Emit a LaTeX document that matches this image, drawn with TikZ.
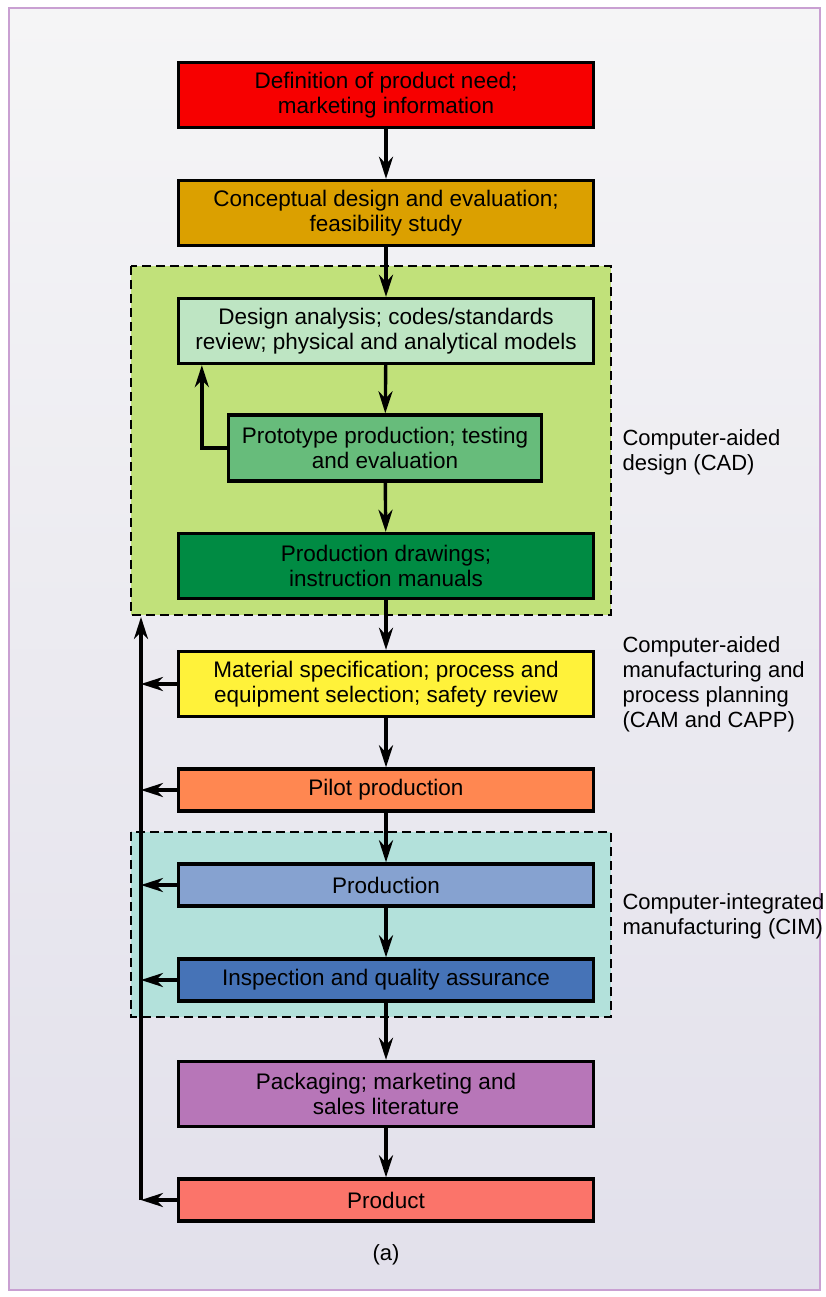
\documentclass[tikz,border=0pt]{standalone}
\usepackage{fontspec}
\setmainfont{Liberation Sans}
\usetikzlibrary{arrows.meta, calc}
\definecolor{needred}{HTML}{F70000}
\definecolor{conceptgold}{HTML}{DBA000}
\definecolor{cadgreen}{HTML}{C1E17A}
\definecolor{analysismint}{HTML}{BEE5C3}
\definecolor{protogreen}{HTML}{67BC7B}
\definecolor{drawgreen}{HTML}{008B43}
\definecolor{matyellow}{HTML}{FFF23A}
\definecolor{pilotorange}{HTML}{FF8751}
\definecolor{cimteal}{HTML}{B3E1DB}
\definecolor{prodblue}{HTML}{86A2D0}
\definecolor{inspblue}{HTML}{4673B7}
\definecolor{packpurple}{HTML}{B776B8}
\definecolor{productred}{HTML}{FB746A}
\definecolor{framepink}{HTML}{C9A0D2}
\definecolor{bgtop}{HTML}{F5F5F6}
\definecolor{bgbottom}{HTML}{E2E0EB}

\begin{document}
\begin{tikzpicture}[x=1pt, y=-1pt, >={Stealth[length=22pt, width=14pt, inset=7pt]}]
\useasboundingbox (0,0) rectangle (825,1297);
\shade[top color=bgtop, bottom color=bgbottom] (9,8) rectangle (820,1290);
\draw[framepink, line width=1.5pt] (9,8) rectangle (820,1290);

% dashed regions
\draw[fill=cadgreen, dash pattern=on 9pt off 5pt, line width=2.7pt] (131,266) rectangle (611,615);
\draw[fill=cimteal, dash pattern=on 9pt off 5pt, line width=2.7pt] (131,832) rectangle (611,1017);

\begin{scope}[every node/.style={draw, line width=3.3pt, minimum width=415pt, minimum height=65pt, align=center, inner sep=0pt, font=\fontsize{22.5}{25}\selectfont}]
    \node[fill=needred] (1) at (386,95) {Definition of product need;\\marketing information};
    \node[fill=conceptgold] (2) at (386,213) {Conceptual design and evaluation;\\feasibility study};
    \node[fill=analysismint] (3) at (386,331) {Design analysis; codes/standards\\review; physical and analytical models};
    \node[fill=protogreen, minimum width=313pt, minimum height=66pt] (4) at (385,448) {Prototype production; testing\\and evaluation};
    \node[fill=drawgreen] (5) at (386,566) {Production drawings;\\instruction manuals};
    \node[fill=matyellow] (6) at (386,684) {Material specification; process and\\equipment selection; safety review};
    \node[fill=pilotorange, minimum height=42pt] (7) at (386,790) {Pilot production};
    \node[fill=prodblue, minimum height=42pt] (8) at (386,885) {Production};
    \node[fill=inspblue, minimum height=42pt] (9) at (386,980) {Inspection and quality assurance};
    \node[fill=packpurple] (10) at (386,1094) {Packaging; marketing and\\sales literature};
    \node[fill=productred, minimum height=42pt] (11) at (386,1200) {Product};
\end{scope}

\begin{scope}[every node/.style={anchor=west, align=left, font=\fontsize{22}{25}\selectfont}]
    \node (cad) at (619,452) {Computer-aided\\design (CAD)};
    \node (cam) at (619,684) {Computer-aided\\manufacturing and\\process planning\\(CAM and CAPP)};
    \node (cim) at (619,916) {Computer-integrated\\manufacturing (CIM)};
\end{scope}
\node[font=\fontsize{22}{25}\selectfont] (a) at (386,1255) {(a)};

\coordinate (c) at (141,1200);
\coordinate (top) at (141,617);

\begin{scope}[line width=3.4pt]
\draw[->] (1) -- (2);
\draw[->] (2) -- (3);
\draw[->] (3) -- (4);
\draw[->] (4) -- (5);
\draw[->] (5) -- (6);
\draw[->] (6) -- (7);
\draw[->] (7) -- (8);
\draw[->] (8) -- (9);
\draw[->] (9) -- (10);
\draw[->] (10) -- (11);
\draw[->] (4.west) -| ([xshift=25pt]3.south west);
\draw[->] (c) -- (top);
\draw[->] (6.west) -- (6.west -| c);
\draw[->] (7.west) -- (7.west -| c);
\draw[->] (8.west) -- (8.west -| c);
\draw[->] (9.west) -- (9.west -| c);
\draw[->] (11.west) -- (c);
\end{scope}
\end{tikzpicture}
\end{document}
